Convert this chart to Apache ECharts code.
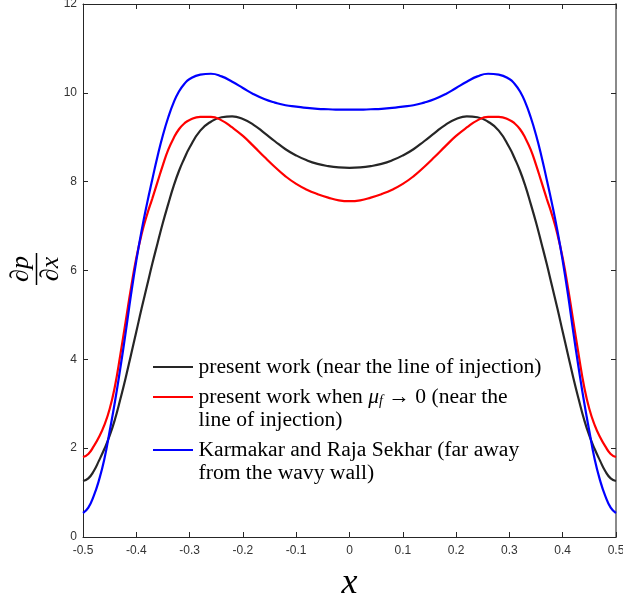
<!DOCTYPE html>
<html>
<head>
<meta charset="utf-8">
<script src="https://cdn.jsdelivr.net/npm/echarts@6/dist/echarts.min.js"></script>
<style>html,body{margin:0;padding:0;background:#fff;overflow:hidden}#c{width:623px;height:605px}</style>
</head>
<body>
<div id="c"></div>
<script>
const xs = [-0.50,-0.49,-0.48,-0.47,-0.46,-0.45,-0.44,-0.43,-0.42,-0.41,-0.40,-0.39,-0.38,-0.37,-0.36,-0.35,-0.34,-0.33,-0.32,-0.31,-0.30,
  -0.28,-0.26,-0.24,-0.22,-0.20,-0.18,-0.16,-0.14,-0.12,-0.10,-0.08,-0.06,-0.04,-0.02,0,
  0.02,0.04,0.06,0.08,0.10,0.12,0.14,0.16,0.18,0.20,0.22,0.24,0.26,0.28,
  0.30,0.31,0.32,0.33,0.34,0.35,0.36,0.37,0.38,0.39,0.40,0.41,0.42,0.43,0.44,0.45,0.46,0.47,0.48,0.49,0.50];

const presentWork = [1.26,1.32,1.48,1.72,1.98,2.28,2.65,3.10,3.58,4.10,4.62,5.15,5.65,6.15,6.62,7.08,7.50,7.90,8.24,8.52,8.77,
  9.15,9.35,9.45,9.47,9.41,9.28,9.10,8.91,8.73,8.59,8.48,8.40,8.35,8.32,8.31,
  8.32,8.35,8.40,8.48,8.59,8.73,8.91,9.10,9.28,9.41,9.47,9.45,9.35,9.15,
  8.77,8.52,8.24,7.90,7.50,7.08,6.62,6.15,5.65,5.15,4.62,4.10,3.58,3.10,2.65,2.28,1.98,1.72,1.48,1.32,1.26];

const presentWorkMu0 = [1.80,1.87,2.04,2.25,2.52,2.88,3.40,4.10,4.85,5.60,6.28,6.82,7.25,7.62,8.00,8.38,8.72,8.98,9.18,9.31,9.39,
  9.46,9.46,9.38,9.22,9.03,8.80,8.56,8.33,8.12,7.95,7.82,7.72,7.64,7.58,7.56,
  7.58,7.64,7.72,7.82,7.95,8.12,8.33,8.56,8.80,9.03,9.22,9.38,9.46,9.46,
  9.39,9.31,9.18,8.98,8.72,8.38,8.00,7.62,7.25,6.82,6.28,5.60,4.85,4.10,3.40,2.88,2.52,2.25,2.04,1.87,1.80];

const karmakar = [0.54,0.66,0.92,1.28,1.75,2.38,3.05,3.80,4.60,5.45,6.22,6.90,7.50,8.05,8.58,9.05,9.45,9.78,10.03,10.20,10.31,
  10.41,10.43,10.37,10.25,10.11,9.97,9.86,9.78,9.72,9.69,9.66,9.64,9.63,9.62,9.62,
  9.62,9.63,9.64,9.66,9.69,9.72,9.78,9.86,9.97,10.11,10.25,10.37,10.43,10.41,
  10.31,10.20,10.03,9.78,9.45,9.05,8.58,8.05,7.50,6.90,6.22,5.45,4.60,3.80,3.05,2.38,1.75,1.28,0.92,0.66,0.54];

const seriesNames = [
  'present work (near the line of injection)',
  'present work when μf → 0 (near the line of injection)',
  'Karmakar and Raja Sekhar (far away from the wavy wall)'
];
const seriesColors = ['#262626', '#ff0000', '#0000ff'];
const xTickLabels = ['-0.5','-0.4','-0.3','-0.2','-0.1','0','0.1','0.2','0.3','0.4','0.5'];
const yTickLabels = ['0','2','4','6','8','10','12'];

const chart = echarts.init(document.getElementById('c'), null, {renderer: 'canvas'});
const pair = ys => xs.map((x, i) => [x, ys[i]]);
const allY = [presentWork, presentWorkMu0, karmakar];

const FS = 21.6;
const legendText = {
  fontFamily: 'Liberation Serif', fontSize: FS, lineHeight: 23, color: '#000',
  rich: {
    t: {fontFamily: 'Liberation Serif', fontSize: FS, lineHeight: 23, color: '#000'},
    m: {fontFamily: 'Liberation Serif', fontStyle: 'italic', fontSize: FS, lineHeight: 23, color: '#000'},
    s: {fontFamily: 'Liberation Serif', fontStyle: 'italic', fontSize: 14, lineHeight: 23, color: '#000', verticalAlign: 'bottom'}
  }
};
const padded = Object.assign({}, legendText, {padding: [23, 0, 0, 0]});
const lineIcon = 'path://M0 0 H40 V2 H0 Z';
const legendBase = {orient: 'vertical', left: 153, itemWidth: 41, itemHeight: 2, padding: 0, selectedMode: false, icon: lineIcon};

const axisLbl = {fontFamily: 'Liberation Sans', fontSize: 12, color: '#333'};

chart.setOption({
  animation: false,
  backgroundColor: '#fff',
  grid: {left: 83, right: 7, top: 4, bottom: 68, containLabel: false, outerBoundsMode: 'none'},
  xAxis: [{
    type: 'value', min: -0.5, max: 0.5, interval: 0.1, position: 'bottom',
    axisLine: {onZero: false, lineStyle: {color: '#262626', width: 1}},
    axisTick: {inside: true, length: 5, lineStyle: {color: '#262626'}},
    axisLabel: Object.assign({margin: 8, formatter: (v, i) => xTickLabels[i]}, axisLbl),
    splitLine: {show: false},
    name: 'x', nameLocation: 'middle', nameGap: 29,
    nameTextStyle: {fontFamily: 'Liberation Serif', fontStyle: 'italic', fontSize: 36, color: '#000'}
  }, {
    type: 'value', min: -0.5, max: 0.5, interval: 0.1, position: 'top',
    axisLine: {onZero: false, lineStyle: {color: '#262626', width: 1}},
    axisTick: {inside: true, length: 5, lineStyle: {color: '#262626'}},
    axisLabel: {show: false}, splitLine: {show: false}
  }],
  yAxis: [{
    type: 'value', min: 0, max: 12, interval: 2, position: 'left',
    axisLine: {show: true, onZero: false, lineStyle: {color: '#262626', width: 1}},
    axisTick: {show: true, inside: true, length: 5, lineStyle: {color: '#262626'}},
    axisLabel: Object.assign({margin: 6, formatter: (v, i) => yTickLabels[i]}, axisLbl),
    splitLine: {show: false}
  }, {
    type: 'value', min: 0, max: 12, interval: 2, position: 'right',
    axisLine: {show: true, onZero: false, lineStyle: {color: '#8a8a8a', width: 2}},
    axisTick: {show: true, inside: true, length: 5, lineStyle: {color: '#262626'}},
    axisLabel: {show: false}, splitLine: {show: false}
  }],
  legend: [
    Object.assign({}, legendBase, {top: 355.5, data: [seriesNames[0]], textStyle: legendText,
      formatter: () => '{t|present work (near the line of injection)}'}),
    Object.assign({}, legendBase, {top: 362.5, data: [seriesNames[1]], textStyle: padded,
      formatter: () => '{t|present work when }{m|μ}{s|f}{t| → 0 (near the}\n{t|line of injection)}'}),
    Object.assign({}, legendBase, {top: 415.5, data: [seriesNames[2]], textStyle: padded,
      formatter: () => '{t|Karmakar and Raja Sekhar (far away}\n{t|from the wavy wall)}'})
  ],
  series: seriesNames.map((n, k) => ({
    name: n, type: 'line', data: pair(allY[k]), showSymbol: false, symbol: 'none',
    smooth: 0.5,
    lineStyle: {color: seriesColors[k], width: 2.2}, itemStyle: {color: seriesColors[k]}
  })),
  graphic: [{
    type: 'group', x: 36.5, y: 269, rotation: Math.PI / 2,
    children: [
      {type: 'text', x: 0, y: -2, style: {text: '∂p', fontFamily: 'Liberation Serif', fontStyle: 'italic', fontSize: 26, fill: '#000', align: 'center', verticalAlign: 'bottom'}},
      {type: 'line', shape: {x1: -16, y1: 0, x2: 16, y2: 0}, style: {stroke: '#000', lineWidth: 1.5}},
      {type: 'text', x: 0, y: 2, style: {text: '∂x', fontFamily: 'Liberation Serif', fontStyle: 'italic', fontSize: 26, fill: '#000', align: 'center', verticalAlign: 'top'}}
    ]
  }]
});
</script>
</body>
</html>
